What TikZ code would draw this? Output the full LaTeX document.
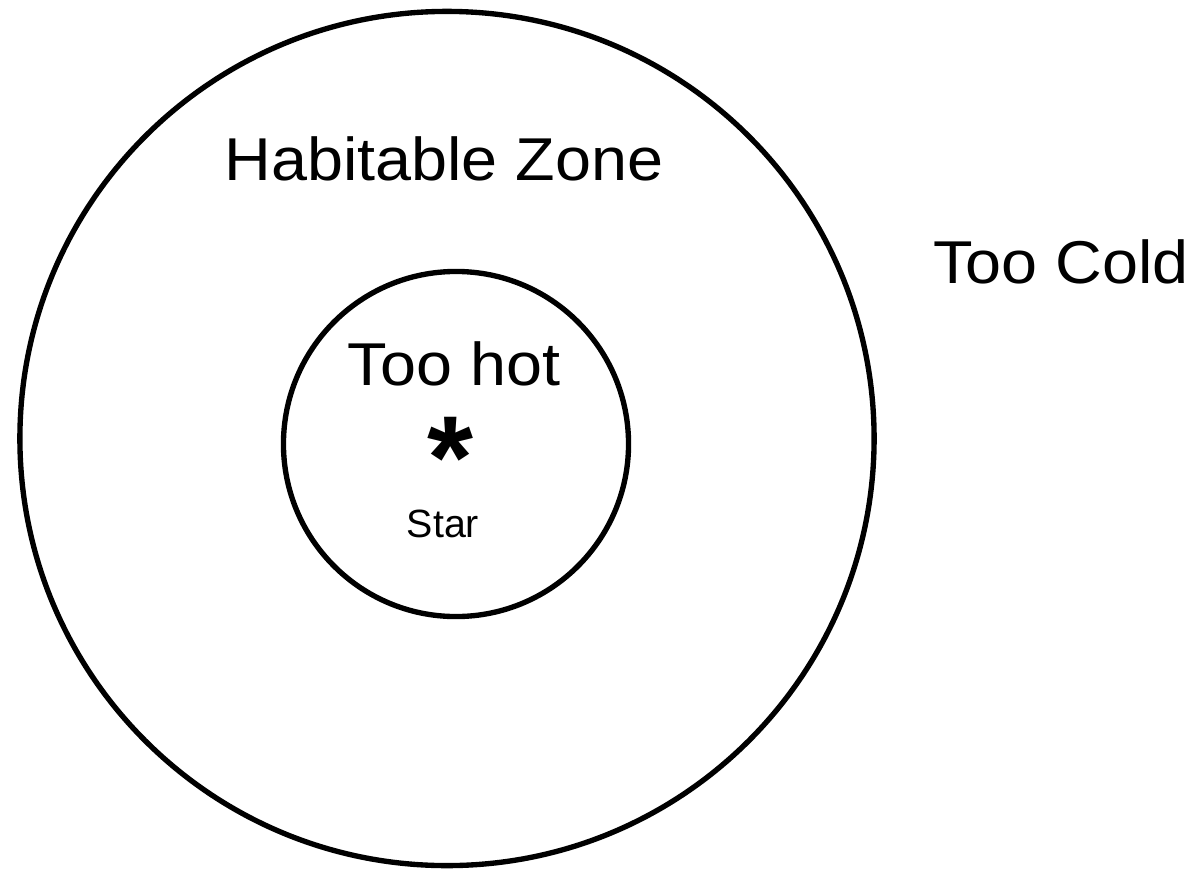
\documentclass[tikz,border=0pt]{standalone}
\usepackage{fontspec}
\setmainfont{Liberation Sans}
\newfontfamily\zonefont[FakeStretch=1.07]{Liberation Sans}
\usepackage{tikz}
\usetikzlibrary{positioning}

\begin{document}
\begin{tikzpicture}[
    x=0.025cm, y=-0.025cm,
    orbit/.style={draw=black, circle, line width=3.8pt, inner sep=0pt},
    zonelabel/.style={anchor=base, inner sep=0pt, font=\zonefont\fontsize{43}{48}\selectfont},
    starlabel/.style={anchor=base, inner sep=0pt, font=\fontsize{28}{32}\selectfont}
]
\useasboundingbox (0,0) rectangle (1199,869);
\node[orbit, minimum size=21.35cm] (outer) at (447,438.5) {};
\node[orbit, minimum size=8.625cm] (inner) at (456,444) {};
\node[zonelabel] (habitable) at (444,180) {Habitable Zone};
\node[zonelabel, anchor=base west] (cold) at (933,283) {Too Cold};
\node[zonelabel] (hot) at (454,385) {Too hot};
\node[anchor=center, inner sep=0pt, font=\fontsize{84}{84}\bfseries] (star) at (450,434.5) {\raisebox{-0.35em}[0.38em][0pt]{*}};
\node[starlabel] (starname) at (443,537) {Star};
\end{tikzpicture}
\end{document}
